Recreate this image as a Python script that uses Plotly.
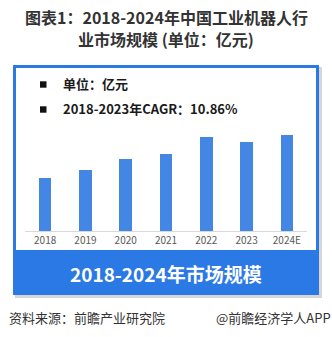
import plotly.graph_objects as go

W, H = 332, 337

# Market size of China's industrial robot industry (100 million yuan)
years = ["2018", "2019", "2020", "2021", "2022", "2023", "2024E"]
market_size = [527, 607, 720, 770, 940, 890, 960]

title_lines = ["图表1：2018-2024年中国工业机器人行", "业市场规模 (单位：亿元)"]
notes = ["单位：亿元", "2018-2023年CAGR：10.86%"]
banner_text = "2018-2024年市场规模"
source_text = "资料来源：前瞻产业研究院"
credit_text = "@前瞻经济学人APP"

FONT = "Noto Sans CJK SC"
BLUE = "#2b79e4"
BAR = "#4386e3"


def px(x):
    return x / W


def py(y):
    return 1 - y / H


fig = go.Figure()
fig.add_trace(go.Bar(
    x=years, y=market_size, width=0.31,
    marker=dict(color=BAR, line=dict(width=0)),
    hoverinfo="x+y",
))

shapes = [
    # soft shadow behind the card
    dict(type="rect", xref="paper", yref="paper", layer="below",
         x0=px(15), x1=px(322), y0=py(298), y1=py(67),
         fillcolor="#d6d6d6", line=dict(width=0)),
    # card body
    dict(type="rect", xref="paper", yref="paper", layer="below",
         x0=px(13), x1=px(319), y0=py(295), y1=py(65),
         fillcolor="white", line=dict(width=0)),
    # card border
    dict(type="rect", xref="paper", yref="paper", layer="above",
         x0=px(14.5), x1=px(317.5), y0=py(293.5), y1=py(66.5),
         fillcolor="rgba(0,0,0,0)", line=dict(color=BLUE, width=3)),
    # bottom banner
    dict(type="rect", xref="paper", yref="paper", layer="above",
         x0=px(13), x1=px(319), y0=py(295), y1=py(250),
         fillcolor=BLUE, line=dict(width=0)),
]

# square bullets before the notes
for yc in (84.5, 109.5):
    shapes.append(dict(type="rect", xref="paper", yref="paper", layer="above",
                       x0=px(40), x1=px(46.5), y0=py(yc + 3.2), y1=py(yc - 3.2),
                       fillcolor="#111111", line=dict(width=0)))

annotations = []
for yc, line in zip((17.5, 38.5), title_lines):
    annotations.append(dict(
        text=f"<b>{line}</b>", xref="paper", yref="paper",
        x=px(166), y=py(yc), xanchor="center", yanchor="middle",
        showarrow=False, font=dict(family=FONT, size=16, color="#333333")))

for yc, line in zip((84, 109), notes):
    annotations.append(dict(
        text=line, xref="paper", yref="paper",
        x=px(61), y=py(yc), xanchor="left", yanchor="middle",
        showarrow=False,
        font=dict(family=FONT, size=13, color="#1a1a1a", weight=600)))

annotations.append(dict(
    text=f"<b>{banner_text}</b>", xref="paper", yref="paper",
    x=px(166), y=py(273), xanchor="center", yanchor="middle",
    showarrow=False, font=dict(family=FONT, size=19, color="white")))

annotations.append(dict(
    text=source_text, xref="paper", yref="paper",
    x=px(7), y=py(317), xanchor="left", yanchor="middle",
    showarrow=False, font=dict(family=FONT, size=13, color="#333333")))
annotations.append(dict(
    text=credit_text, xref="paper", yref="paper",
    x=px(333), y=py(317), xanchor="right", yanchor="middle",
    showarrow=False, font=dict(family=FONT, size=13, color="#333333")))

fig.update_layout(
    width=W, height=H,
    margin=dict(l=0, r=0, t=0, b=0),
    paper_bgcolor="white",
    plot_bgcolor="rgba(0,0,0,0)",
    showlegend=False,
    bargap=0,
    shapes=shapes,
    annotations=annotations,
    xaxis=dict(
        domain=[px(25), px(307)],
        range=[-0.5, 6.5],
        showline=True, linecolor="#d9d9d9", linewidth=1,
        ticks="", showgrid=False, zeroline=False,
        tickfont=dict(family=FONT, size=10, color="#595959"),
        fixedrange=True,
    ),
    yaxis=dict(
        domain=[py(231), py(125)],
        range=[0, 1060],
        visible=False, showgrid=False, zeroline=False,
        fixedrange=True,
    ),
)

fig.write_html("out.html")
